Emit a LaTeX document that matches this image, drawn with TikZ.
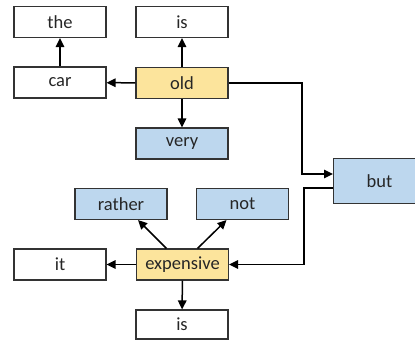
\documentclass[tikz,border=0pt]{standalone}
\usepackage{fontspec}
\setmainfont{Carlito}
\usetikzlibrary{arrows.meta}
\definecolor{boxline}{HTML}{333333}
\definecolor{headfill}{HTML}{FCE49C}
\definecolor{depfill}{HTML}{BDD7EE}
\tikzset{
  word/.style={draw=boxline, line width=1.1pt, minimum width=92pt, minimum height=31pt, inner sep=0pt, font=\fontsize{18.5}{22}\selectfont, text=black!85},
  plainbox/.style={word, fill=white},
  headbox/.style={word, fill=headfill},
  depbox/.style={word, fill=depfill},
  conn/.style={draw=black, line width=1.5pt, -{Triangle[length=9pt,width=8.5pt]}}
}
\begin{document}
\begin{tikzpicture}[x=1pt,y=-1pt]
\useasboundingbox (0,0) rectangle (415,340);
\node[plainbox] (the) at (60,22) {the};
\node[plainbox] (is1) at (182,22) {is};
\node[plainbox] (car) at (60,82.5) {car};
\node[headbox] (old) at (182,83) {old};
\node[depbox] (very) at (182,143.5) {very};
\node[depbox, minimum height=45pt, anchor=west] (but) at (333,181) {\makebox[92pt]{but}\hspace{28pt}};
\node[depbox] (rather) at (121,204) {rather};
\node[depbox] (not) at (242.5,204) {not};
\node[plainbox] (it) at (60,264.5) {it};
\node[headbox] (exp) at (182.5,264.5) {expensive};
\node[plainbox, minimum height=29pt] (is2) at (182,324.5) {is};
\draw[conn] (car) -- (the);
\draw[conn] (old) -- (is1);
\draw[conn] (old) -- (car);
\draw[conn] (old) -- (very);
\draw[conn] (old.east) -- (302,83) |- ([yshift=7pt]but.west);
\draw[conn] ([yshift=-7pt]but.west) -- (304,188) |- (exp.east);
\draw[conn] ([xshift=-16pt]exp.north) -- ([xshift=17pt]rather.south);
\draw[conn] ([xshift=15pt]exp.north) -- ([xshift=-16pt]not.south);
\draw[conn] (exp) -- (it);
\draw[conn] (exp) -- (is2);
\end{tikzpicture}
\end{document}
